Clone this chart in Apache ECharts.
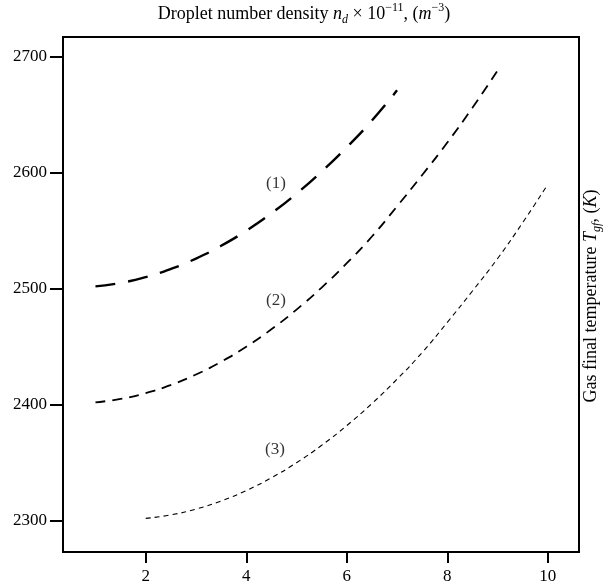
<!DOCTYPE html>
<html>
<head>
<meta charset="utf-8">
<script src="https://cdn.jsdelivr.net/npm/echarts@6/dist/echarts.min.js"></script>
<style>html,body{margin:0;padding:0;background:#fff}#c{width:608px;height:587px}</style>
</head>
<body>
<div id="c"></div>
<script>
// Data
var x1 = [1,1.5,2,2.5,3,3.5,4,4.5,5,5.5,6,6.5,7];
var y1 = [2502,2505,2510,2517,2526,2537,2550,2565,2582,2601,2622,2645,2671];
var x2 = [1,1.5,2,2.5,3,3.5,4,4.5,5,5.5,6,6.5,7,7.5,8,8.5,9];
var y2 = [2402,2405,2410,2417,2426,2437,2450,2465,2482,2501,2522,2545,2571,2598,2626,2656,2688];
var x3 = [2,2.5,3,3.5,4,4.5,5,5.5,6,6.5,7,7.5,8,8.5,9,9.5,10];
var y3 = [2302,2305,2310,2317,2326,2337,2350,2365,2382,2401,2422,2445,2471,2498,2526,2557,2590];
var xTicks = [2,4,6,8,10];
var yTicks = [2300,2400,2500,2600,2700];
var curveNames = ['(1)','(2)','(3)'];
var labelX = [4.59, 4.59, 4.57];
var labelY = [2591, 2490, 2361];

function pairs(xs, ys){ return xs.map(function(v,i){return [v, ys[i]];}); }

var serif = 'Liberation Serif';
var rich = {
  n: {fontFamily: serif, fontSize: 18, fontWeight: 'normal', color: '#000', lineHeight: 24, verticalAlign: 'middle'},
  i: {fontFamily: serif, fontSize: 18, fontWeight: 'normal', fontStyle: 'italic', color: '#000', lineHeight: 24, verticalAlign: 'middle'},
  sub: {fontFamily: serif, fontSize: 12, fontWeight: 'normal', fontStyle: 'italic', color: '#000', lineHeight: 11, verticalAlign: 'bottom'},
  sup: {fontFamily: serif, fontSize: 12, fontWeight: 'normal', color: '#000', lineHeight: 11, verticalAlign: 'top'}
};

var chart = echarts.init(document.getElementById('c'), null, {renderer: 'canvas'});
chart.setOption({
  animation: false,
  backgroundColor: '#fff',
  title: {
    text: '{n|Droplet number density }{i|n}{sub|d}{n| × 10}{sup|−11}{n|, (}{i|m}{sup|−3}{n|)}',
    left: 'center',
    top: 0,
    padding: [2, 5, 2, 5],
    textStyle: {fontWeight: 'normal', rich: rich}
  },
  graphic: [{
    type: 'text',
    x: 591,
    y: 296,
    rotation: Math.PI / 2,
    style: {
      text: '{n|Gas final temperature }{i|T}{sub|gf}{n|, (}{i|K}{n|)}',
      rich: rich,
      align: 'center',
      verticalAlign: 'middle'
    }
  }],
  grid: {left: 63, right: 29, top: 37, bottom: 35, show: true, borderColor: '#000', borderWidth: 2, backgroundColor: 'transparent'},
  xAxis: {
    type: 'value', min: 0.354, max: 10.62,
    splitLine: {show: false},
    axisLine: {show: false},
    axisTick: {show: true, length: 11, lineStyle: {color: '#000', width: 2}, customValues: xTicks},
    axisLabel: {customValues: xTicks, color: '#000', fontFamily: serif, fontSize: 17, margin: 16,
      formatter: function(v){ return String(v); }}
  },
  yAxis: {
    type: 'value', min: 2273, max: 2717,
    splitLine: {show: false},
    axisLine: {show: false},
    axisTick: {show: true, length: 13, lineStyle: {color: '#000', width: 2}, customValues: yTicks},
    axisLabel: {customValues: yTicks, color: '#000', fontFamily: serif, fontSize: 17, margin: 16,
      formatter: function(v){ return String(v); }}
  },
  series: [
    {type: 'line', data: pairs(x1, y1), smooth: true, showSymbol: false,
     lineStyle: {color: '#000', width: 2.4, type: [20, 13]}},
    {type: 'line', data: pairs(x2, y2), smooth: true, showSymbol: false,
     lineStyle: {color: '#000', width: 1.8, type: [10, 7]}},
    {type: 'line', data: pairs(x3, y3), smooth: true, showSymbol: false,
     lineStyle: {color: '#000', width: 1.1, type: [5, 4]}},
    {type: 'scatter', symbolSize: 0, silent: true,
     data: curveNames.map(function(n,i){return {name: n, value: [labelX[i], labelY[i]]};}),
     label: {show: true, position: 'inside', formatter: '{b}', color: '#000', fontFamily: serif, fontSize: 17}}
  ]
});
</script>
</body>
</html>
